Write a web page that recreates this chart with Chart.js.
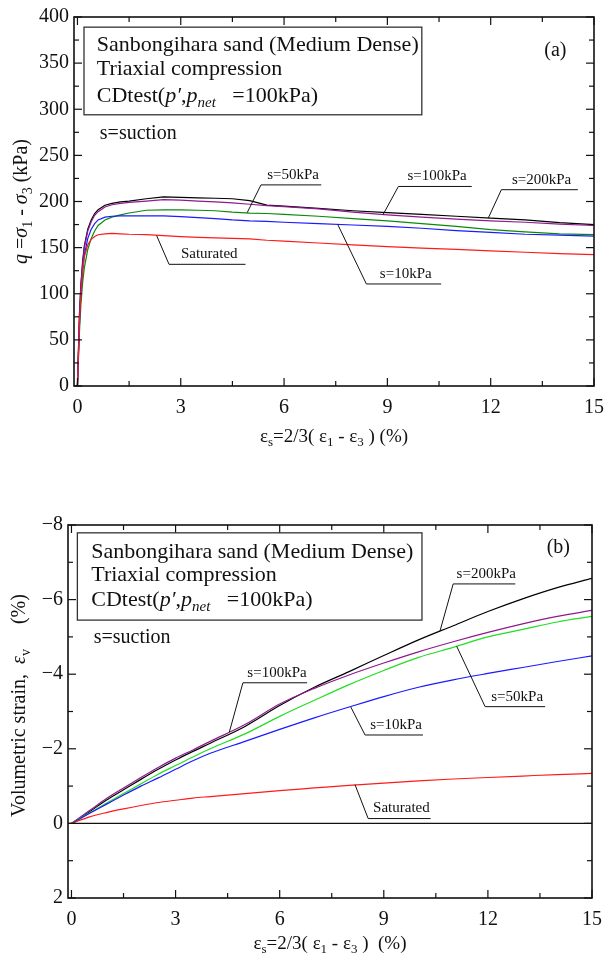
<!DOCTYPE html>
<html>
<head>
<meta charset="utf-8">
<script src="https://cdn.jsdelivr.net/npm/chart.js@4.4.1/dist/chart.umd.min.js"></script>
<style>
  body { margin: 0; background: #fff; }
  canvas { position: absolute; left: 0; }
  #chartA { top: 0; }
  #chartB { top: 460px; }
</style>
</head>
<body>
<canvas id="chartA" width="614" height="460"></canvas>
<canvas id="chartB" width="614" height="498"></canvas>
<script>
// ---- data (a): deviator stress vs shear strain ----
const strainA = [0, 0.03, 0.06, 0.1, 0.15, 0.2, 0.3, 0.4, 0.5, 0.6, 0.8, 1, 1.25, 1.5, 2, 2.5, 3, 3.5, 4, 4.5, 5, 5.5, 6, 7, 8, 9, 10, 11, 12, 13, 14, 15];
const qS200 = [0, 40, 80, 110, 135, 152, 170, 180, 187, 191, 196, 198, 199.5, 200.5, 203, 205, 204.5, 204, 203.5, 203, 201, 196, 195, 192.5, 190, 188, 186, 184, 182, 180, 177, 175];
const qS100 = [0, 40, 78, 108, 132, 150, 168, 178, 185, 189, 194, 196.5, 198, 199, 200.5, 202, 201.5, 200.5, 199.5, 198.5, 197, 195.5, 194.5, 192, 188.5, 185.5, 183, 181, 179, 177.5, 175.5, 174];
const qS50 = [0, 30, 60, 88, 112, 128, 148, 160, 168, 174, 180, 183, 185.5, 187.5, 190.5, 191, 191, 190.5, 190, 188.5, 187.5, 187, 186, 184, 181.5, 179, 176, 173, 169.5, 167, 165, 164];
const qS10 = [0, 35, 70, 100, 125, 142, 160, 170, 176, 180, 183, 184, 184.5, 184.5, 184.5, 184.5, 183.5, 182.5, 181.5, 180, 179, 178.5, 177.5, 176, 174.5, 173, 171, 168.5, 166.5, 164.5, 163.5, 162.5];
const qSat = [0, 35, 70, 100, 125, 140, 153, 159, 162, 164, 165, 165.5, 165, 164.5, 164, 163, 162, 161.2, 160.5, 160, 159.5, 158, 157, 155, 153, 151, 149.5, 148, 146.5, 145, 143.5, 142.5];

// ---- data (b): volumetric strain vs shear strain ----
const strainB = [0, 0.5, 1, 1.5, 2, 2.5, 3, 3.5, 4, 5, 6, 7, 8, 9, 10, 11, 12, 13, 14, 15];
const evS200 = [0, -0.3, -0.62, -0.9, -1.18, -1.45, -1.7, -1.93, -2.15, -2.6, -3.16, -3.65, -4.07, -4.5, -4.92, -5.3, -5.68, -6.02, -6.32, -6.57];
const evS100 = [0, -0.33, -0.66, -0.95, -1.23, -1.5, -1.75, -1.97, -2.2, -2.65, -3.2, -3.62, -3.98, -4.3, -4.6, -4.87, -5.12, -5.35, -5.55, -5.71];
const evS50 = [0, -0.27, -0.54, -0.8, -1.06, -1.32, -1.55, -1.78, -2.0, -2.4, -2.87, -3.3, -3.72, -4.1, -4.45, -4.72, -5.0, -5.2, -5.4, -5.55];
const evS10 = [0, -0.26, -0.51, -0.76, -1.0, -1.22, -1.45, -1.68, -1.88, -2.2, -2.52, -2.83, -3.12, -3.4, -3.65, -3.85, -4.02, -4.18, -4.34, -4.49];
const evSat = [0, -0.17, -0.29, -0.39, -0.48, -0.56, -0.62, -0.68, -0.72, -0.8, -0.88, -0.95, -1.02, -1.08, -1.14, -1.19, -1.23, -1.27, -1.31, -1.34];

// ---- ticks ----
const xMajor = [0, 3, 6, 9, 12, 15];
const xMinor = [1.5, 4.5, 7.5, 10.5, 13.5];
const yMajorA = [0, 50, 100, 150, 200, 250, 300, 350, 400];
const yMinorA = [25, 75, 125, 175, 225, 275, 325, 375];
const yMajorB = [-8, -6, -4, -2, 0, 2];
const yMinorB = [-7, -5, -3, -1, 1];

// ---- labels on the curves: text, underline x1..x2 at y, leader end (lx, ly) ----
const notesA = [
  { text: 's=50kPa', x1: 5.33, x2: 7.08, y: 218, lx: 4.93, ly: 188 },
  { text: 's=100kPa', x1: 9.32, x2: 11.45, y: 216.3, lx: 8.87, ly: 185.5 },
  { text: 's=200kPa', x1: 12.31, x2: 14.53, y: 212.8, lx: 11.93, ly: 182 },
  { text: 'Saturated', x1: 2.66, x2: 4.88, y: 131.9, lx: 2.3, ly: 163 },
  { text: 's=10kPa', x1: 8.39, x2: 10.56, y: 110.6, lx: 7.56, ly: 175 }
];
const notesB = [
  { text: 's=200kPa', x1: 11.0, x2: 12.79, y: -6.42, lx: 10.62, ly: -5.16 },
  { text: 's=100kPa', x1: 4.94, x2: 6.79, y: -3.77, lx: 4.55, ly: -2.45 },
  { text: 's=50kPa', x1: 11.92, x2: 13.65, y: -3.13, lx: 11.1, ly: -4.75 },
  { text: 's=10kPa', x1: 8.46, x2: 10.13, y: -2.37, lx: 8.05, ly: -3.12 },
  { text: 'Saturated', x1: 8.55, x2: 10.35, y: -0.13, lx: 8.17, ly: -1.04 }
];

const infoLines = [
  [['Sanbongihara sand (Medium Dense)', '']],
  [['Triaxial compression', '']],
  [['CDtest(', ''], ['p′', 'i'], [',', ''], ['p', 'i'], ['net', 'si'], ['   =100kPa)', '']]
];
const xTitle = [['ε', ''], ['s', 's'], ['=2/3( ', ''], ['ε', ''], ['1', 's'], [' - ', ''], ['ε', ''], ['3', 's'], [' ) (%)', '']];
const xTitleB = [['ε', ''], ['s', 's'], ['=2/3( ', ''], ['ε', ''], ['1', 's'], [' - ', ''], ['ε', ''], ['3', 's'], [' )  (%)', '']];
const yTitleA = [['q', 'i'], [' =', ''], ['σ', 'i'], ['1', 's'], [' - ', ''], ['σ', 'i'], ['3', 's'], [' (kPa)', '']];
const yTitleB = [['Volumetric strain,  ', ''], ['ε', 'i'], ['v', 's'], ['     (%)', '']];

const FONT = '"Liberation Serif", "Times New Roman", serif';

const segFont = (st, size) =>
  (st.includes('i') ? 'italic ' : '') + (st.includes('s') ? Math.round(size * 0.68) : size) + 'px ' + FONT;

function drawRich(ctx, segs, x, y, size, align) {
  let w = 0;
  segs.forEach(([t, st]) => { ctx.font = segFont(st, size); w += ctx.measureText(t).width; });
  let cx = align === 'center' ? x - w / 2 : x;
  ctx.textAlign = 'left';
  ctx.textBaseline = 'middle';
  segs.forEach(([t, st]) => {
    ctx.font = segFont(st, size);
    ctx.fillText(t, cx, y + (st.includes('s') ? size * 0.3 : 0));
    cx += ctx.measureText(t).width;
  });
}

function seg(ctx, x1, y1, x2, y2) {
  ctx.beginPath(); ctx.moveTo(x1, y1); ctx.lineTo(x2, y2); ctx.stroke();
}

// frame, inner ticks, text box, curve labels and axis titles
const decor = {
  id: 'decor',
  afterDraw(chart, args, o) {
    const ctx = chart.ctx, a = chart.chartArea;
    const xs = chart.scales.x, ys = chart.scales.y;
    const px = v => xs.getPixelForValue(v), py = v => ys.getPixelForValue(v);
    ctx.save();
    ctx.strokeStyle = '#111';
    ctx.fillStyle = '#111';

    if (o.zeroLine) {
      ctx.lineWidth = 1.3;
      seg(ctx, a.left, py(0), a.right, py(0));
    }

    ctx.lineWidth = 1.6;
    ctx.strokeRect(a.left, a.top, a.right - a.left, a.bottom - a.top);

    ctx.lineWidth = 1.2;
    [[xMajor, 8], [xMinor, 5]].forEach(([vals, len]) => vals.forEach(v => {
      seg(ctx, px(v), a.bottom, px(v), a.bottom - len);
      seg(ctx, px(v), a.top, px(v), a.top + len);
    }));
    [[o.yMajor, 8], [o.yMinor, 5]].forEach(([vals, len]) => vals.forEach(v => {
      seg(ctx, a.left, py(v), a.left + len, py(v));
      seg(ctx, a.right, py(v), a.right - len, py(v));
    }));

    // info box
    const b = o.box;
    ctx.lineWidth = 1.3;
    ctx.strokeStyle = '#333';
    ctx.strokeRect(px(b.x1), py(b.y1), px(b.x2) - px(b.x1), py(b.y2) - py(b.y1));
    infoLines.forEach((ln, i) => drawRich(ctx, ln, px(b.tx), py(b.lines[i]), 22, 'left'));
    drawRich(ctx, [['s=suction', '']], px(b.sx), py(b.sy), 20, 'left');
    drawRich(ctx, [[o.tag, '']], px(o.tagPos[0]), py(o.tagPos[1]), 20, 'center');

    // curve labels with leader lines
    ctx.strokeStyle = '#111';
    ctx.lineWidth = 1;
    o.notes.forEach(n => {
      const y = py(n.y);
      seg(ctx, px(n.x1), y, px(n.x2), y);
      seg(ctx, px(n.x1), y, px(n.lx), py(n.ly));
      drawRich(ctx, [[n.text, '']], (px(n.x1) + px(n.x2)) / 2 + 2, y - 10, 15, 'center');
    });

    // axis titles
    drawRich(ctx, o.xTitle, (a.left + a.right) / 2, a.bottom + o.xTitleOff, 19, 'center');
    ctx.save();
    ctx.translate(o.yTitleX, (a.top + a.bottom) / 2 + o.yTitleShift);
    ctx.rotate(-Math.PI / 2);
    drawRich(ctx, o.yTitle, 0, 0, 20, 'center');
    ctx.restore();

    ctx.restore();
  }
};

function series(xs, ys, color) {
  return {
    data: xs.map((x, i) => ({ x: x, y: ys[i] })),
    borderColor: color,
    borderWidth: 1.2,
    pointRadius: 0,
    fill: false
  };
}

function makeChart(id, datasets, cfg) {
  return new Chart(document.getElementById(id), {
    type: 'line',
    data: { datasets: datasets },
    plugins: [decor],
    options: {
      responsive: false,
      animation: false,
      layout: { padding: cfg.padding },
      elements: { line: { cubicInterpolationMode: cfg.smooth ? 'monotone' : 'default', tension: 0 } },
      plugins: { legend: { display: false }, tooltip: { enabled: false }, decor: cfg.decor },
      scales: {
        x: {
          type: 'linear', min: -0.1, max: 15,
          grid: { display: false, drawTicks: false },
          border: { display: false },
          afterBuildTicks: s => { s.ticks = xMajor.map(v => ({ value: v })); },
          afterFit: s => { s.height = cfg.xHeight; },
          ticks: { padding: 10, color: '#111', maxRotation: 0, autoSkip: false, font: { family: FONT, size: 20 } }
        },
        y: {
          type: 'linear', min: cfg.yMin, max: cfg.yMax, reverse: !!cfg.reverse,
          grid: { display: false, drawTicks: false },
          border: { display: false },
          afterBuildTicks: s => { s.ticks = cfg.decor.yMajor.map(v => ({ value: v })); },
          afterFit: s => { s.width = cfg.yWidth; },
          ticks: {
            padding: 5, color: '#111', autoSkip: false, font: { family: FONT, size: 20 },
            callback: v => (v < 0 ? '−' + Math.abs(v) : String(v))
          }
        }
      }
    }
  });
}

makeChart('chartA', [
  series(strainA, qSat, '#ff1a1a'),
  series(strainA, qS10, '#1a1aff'),
  series(strainA, qS50, '#0a8a0a'),
  series(strainA, qS100, '#8e1a8e'),
  series(strainA, qS200, '#000000')
], {
  padding: { top: 14, right: 13, left: 0, bottom: 0 },
  xHeight: 74, yWidth: 74, yMin: 0, yMax: 400, smooth: false,
  decor: {
    yMajor: yMajorA, yMinor: yMinorA, zeroLine: false,
    box: { x1: 0.19, x2: 10.0, y1: 389, y2: 294, tx: 0.56, lines: [369, 343.3, 313.7], sx: 0.65, sy: 273.4 },
    tag: '(a)', tagPos: [13.88, 363],
    notes: notesA,
    xTitle: xTitle, xTitleOff: 51,
    yTitle: yTitleA, yTitleX: 22, yTitleShift: 0
  }
});

makeChart('chartB', [
  series(strainB, evSat, '#ff1a1a'),
  series(strainB, evS10, '#1a1aff'),
  series(strainB, evS50, '#22dd22'),
  series(strainB, evS100, '#8e1a8e'),
  series(strainB, evS200, '#000000')
], {
  padding: { top: 65, right: 22, left: 0, bottom: 0 },
  xHeight: 60, yWidth: 68, yMin: -8, yMax: 2, reverse: true, smooth: true,
  decor: {
    yMajor: yMajorB, yMinor: yMinorB, zeroLine: true,
    box: { x1: 0.17, x2: 10.1, y1: -7.79, y2: -5.45, tx: 0.57, lines: [-7.28, -6.66, -5.99], sx: 0.64, sy: -4.98 },
    tag: '(b)', tagPos: [14.03, -7.38],
    notes: notesB,
    xTitle: xTitleB, xTitleOff: 46,
    yTitle: yTitleB, yTitleX: 20, yTitleShift: -6
  }
});
</script>
</body>
</html>
